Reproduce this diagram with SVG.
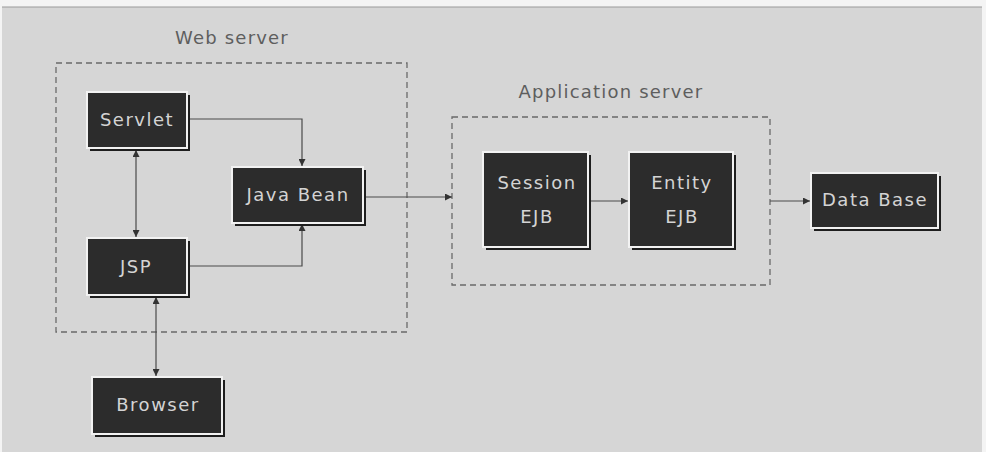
<svg xmlns="http://www.w3.org/2000/svg" width="986" height="452" viewBox="0 0 986 452">
<defs>
<style>
.bg{fill:#d6d6d6}
.grp{fill:none;stroke:#6a6a6a;stroke-width:1.3;stroke-dasharray:6 4}
.shadow{fill:#1e1e1e}
.box{fill:#2c2c2c;stroke:#f2f2f2;stroke-width:2}
.t{font-family:"DejaVu Sans","Liberation Sans",sans-serif;font-size:18px;fill:#d4d4d4;text-anchor:middle;letter-spacing:1.5px}
.lbl{font-family:"DejaVu Sans","Liberation Sans",sans-serif;font-size:18px;fill:#5e5e5e;text-anchor:middle;letter-spacing:1.2px}
.c{fill:none;stroke:#4a4a4a;stroke-width:1.2}
</style>
<marker id="ah" viewBox="0 0 10 10" refX="10" refY="5" markerWidth="9" markerHeight="7" markerUnits="userSpaceOnUse" orient="auto-start-reverse">
<path d="M0,0 L10,5 L0,10 z" fill="#333"/>
</marker>
</defs>
<rect x="0" y="0" width="986" height="452" fill="#f4f4f4"/>
<rect class="bg" x="2" y="7" width="980" height="445"/>
<line x1="2" y1="7" x2="982" y2="7" stroke="#9a9a9a" stroke-width="1"/>

<g id="web-server">
<rect class="grp" x="56" y="63" width="351" height="269"/>
<text class="lbl" x="232" y="44">Web server</text>
</g>
<g id="application-server">
<rect class="grp" x="452" y="117" width="318" height="168"/>
<text class="lbl" x="611" y="98">Application server</text>
</g>

<g id="connectors">
<polyline class="c" points="187,119 302,119 302,166" marker-end="url(#ah)"/>
<polyline class="c" points="187,266 302,266 302,224" marker-end="url(#ah)"/>
<line class="c" x1="136" y1="150" x2="136" y2="237" marker-start="url(#ah)" marker-end="url(#ah)"/>
<line class="c" x1="156" y1="297" x2="156" y2="376" marker-start="url(#ah)" marker-end="url(#ah)"/>
<line class="c" x1="365" y1="197" x2="452" y2="197" marker-end="url(#ah)"/>
<line class="c" x1="590" y1="201" x2="628" y2="201" marker-end="url(#ah)"/>
<line class="c" x1="770" y1="201" x2="810" y2="201" marker-end="url(#ah)"/>
</g>

<g id="servlet">
<rect class="shadow" x="90" y="95" width="100" height="56"/>
<rect class="box" x="87" y="92" width="100" height="56"/>
<text class="t" x="137" y="126">Servlet</text>
</g>
<g id="java-bean">
<rect class="shadow" x="235" y="170" width="131" height="56"/>
<rect class="box" x="232" y="167" width="131" height="56"/>
<text class="t" x="298" y="201">Java Bean</text>
</g>
<g id="jsp">
<rect class="shadow" x="90" y="241" width="100" height="57"/>
<rect class="box" x="87" y="238" width="100" height="57"/>
<text class="t" x="136" y="273">JSP</text>
</g>
<g id="browser">
<rect class="shadow" x="95" y="380" width="130" height="57"/>
<rect class="box" x="92" y="377" width="130" height="57"/>
<text class="t" x="158" y="411">Browser</text>
</g>
<g id="session-ejb">
<rect class="shadow" x="486" y="155" width="105" height="95"/>
<rect class="box" x="483" y="152" width="105" height="95"/>
<text class="t" x="537" y="189">Session</text>
<text class="t" x="537" y="223">EJB</text>
</g>
<g id="entity-ejb">
<rect class="shadow" x="632" y="155" width="104" height="95"/>
<rect class="box" x="629" y="152" width="104" height="95"/>
<text class="t" x="682" y="189">Entity</text>
<text class="t" x="682" y="223">EJB</text>
</g>
<g id="data-base">
<rect class="shadow" x="814" y="176" width="127" height="55"/>
<rect class="box" x="811" y="173" width="127" height="55"/>
<text class="t" x="875" y="206">Data Base</text>
</g>
</svg>
